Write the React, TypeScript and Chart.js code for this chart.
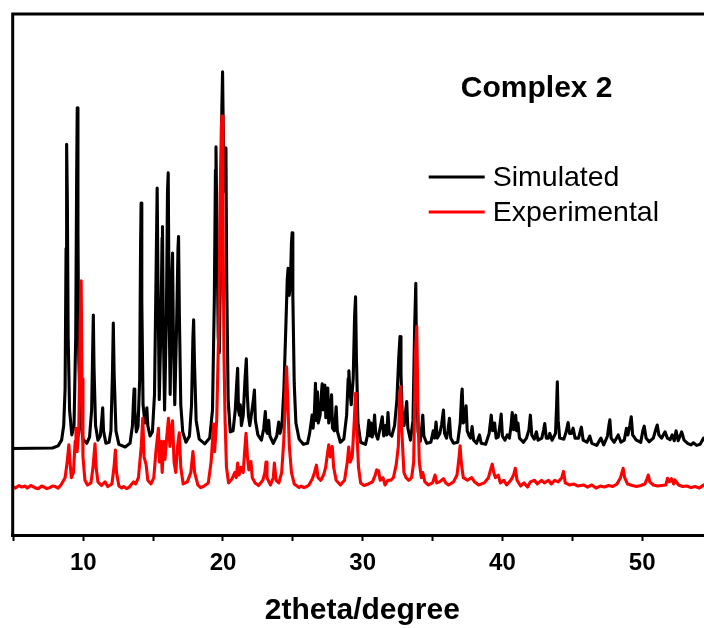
import { useEffect, useRef } from "react";
import { Chart, registerables } from "chart.js";

Chart.register(...registerables);

const FONT = '"Liberation Sans", Arial, Helvetica, sans-serif';

const seriesLabels = ["Simulated", "Experimental"];
const seriesColors = ["#000000", "#ff0000"];
const xTitle = "2theta/degree";
const sampleName = "Complex 2";
const xTickLabels = [10, 20, 30, 40, 50];
const xRange = [4.95, 55];
const yRange = [0, 100];

// [2theta, intensity (a.u., offset as plotted)]
const simulated: [number, number][] = [
  [4.9, 16.6], [7.8, 16.7], [8.2, 17.1], [8.45, 18.2], [8.6, 21], [8.7, 28], [8.77, 55], [8.81, 75.0], [8.86, 64.6], [8.92, 38], [9.02, 24],
  [9.18, 19.2], [9.34, 21], [9.46, 38], [9.53, 70], [9.57, 82.0], [9.62, 58], [9.68, 34], [9.8, 22], [9.98, 18.4], [10.25, 17.6],
  [10.45, 18.8], [10.6, 24], [10.69, 38], [10.72, 42.2], [10.77, 32], [10.88, 21], [11.05, 18.2], [11.22, 19], [11.32, 22], [11.39, 24.4],
  [11.45, 20], [11.62, 17.6], [11.85, 17.8], [11.98, 20], [12.09, 31], [12.15, 40.7], [12.21, 31], [12.34, 20], [12.55, 17.4], [13.0, 16.9],
  [13.35, 17.6], [13.52, 21], [13.6, 26], [13.64, 28.0], [13.69, 24], [13.8, 19.8], [13.92, 20.8], [14.04, 30], [14.1, 55], [14.14, 63.7],
  [14.19, 45], [14.28, 25], [14.42, 21.5], [14.5, 23.5], [14.55, 24.4], [14.62, 21], [14.78, 19], [14.95, 19.8], [15.1, 27], [15.22, 52],
  [15.29, 66.6], [15.35, 48], [15.44, 26], [15.56, 40], [15.64, 57], [15.67, 59.2], [15.73, 40], [15.82, 24], [15.95, 42], [16.03, 66],
  [16.08, 69.5], [16.14, 45], [16.22, 27], [16.32, 48], [16.39, 54.1], [16.45, 38], [16.55, 25], [16.68, 40], [16.78, 55], [16.82, 57.3],
  [16.88, 42], [16.98, 25], [17.12, 19.8], [17.35, 17.8], [17.6, 19], [17.75, 25], [17.85, 38], [17.9, 41.3], [17.96, 33], [18.08, 22],
  [18.3, 18.4], [18.7, 17.5], [19.05, 18.6], [19.25, 24], [19.38, 45], [19.46, 70], [19.5, 74.5], [19.56, 60], [19.66, 38], [19.74, 35],
  [19.84, 55], [19.92, 82], [19.97, 88.9], [20.02, 78], [20.08, 66], [20.15, 70], [20.21, 74.3], [20.27, 48], [20.37, 26], [20.52, 19.8],
  [20.72, 20], [20.88, 24], [20.98, 29], [21.05, 32.0], [21.11, 24], [21.18, 23], [21.24, 25], [21.32, 21], [21.45, 23], [21.58, 30],
  [21.67, 33.8], [21.74, 27], [21.82, 23], [21.92, 21], [22.08, 24], [22.18, 26], [22.25, 27.8], [22.32, 22], [22.5, 19.2], [22.75, 18.2],
  [22.92, 20.5], [23.03, 23.7], [23.1, 20], [23.18, 19.5], [23.27, 22], [23.36, 19], [23.6, 17.6], [23.85, 19], [23.99, 21.7], [24.08, 19.5],
  [24.22, 21], [24.36, 28], [24.5, 40], [24.6, 49], [24.66, 51.2], [24.74, 46], [24.82, 48], [24.9, 56], [24.95, 58.0], [25.0, 46],
  [25.1, 29], [25.22, 21.5], [25.45, 18.4], [25.75, 17.4], [26.05, 17.6], [26.2, 19.5], [26.33, 22], [26.38, 23], [26.45, 20.5], [26.55, 24],
  [26.62, 29.1], [26.68, 22], [26.76, 27.5], [26.82, 21.5], [26.95, 23], [27.04, 27], [27.1, 29.0], [27.17, 24], [27.24, 27.5], [27.29, 28.8],
  [27.36, 22.5], [27.44, 25], [27.5, 28.2], [27.57, 21.5], [27.68, 23.5], [27.77, 26.9], [27.84, 20.5], [27.97, 20], [28.06, 23], [28.1, 24.6],
  [28.18, 20], [28.4, 17.8], [28.65, 18.4], [28.85, 23], [28.96, 30], [29.01, 31.5], [29.08, 28], [29.18, 25], [29.32, 30], [29.42, 42],
  [29.49, 45.7], [29.55, 34], [29.66, 21.5], [29.85, 17.8], [30.2, 17.4], [30.33, 19], [30.44, 22], [30.52, 19], [30.6, 21.5], [30.68, 18.8],
  [30.78, 20.5], [30.85, 23], [30.93, 19.5], [31.08, 18.4], [31.25, 20.5], [31.4, 22.7], [31.5, 19], [31.62, 21], [31.72, 19.2], [31.81, 23.5],
  [31.9, 19.5], [32.08, 19], [32.28, 21], [32.45, 26], [32.58, 34], [32.67, 38.1], [32.74, 31], [32.84, 22], [32.96, 21], [33.08, 24],
  [33.15, 25.6], [33.23, 20.5], [33.42, 18.2], [33.6, 22], [33.72, 40], [33.8, 48.3], [33.86, 32], [33.96, 19.8], [34.12, 18], [34.24, 21],
  [34.3, 23.0], [34.38, 19], [34.58, 17.6], [34.88, 17.8], [35.05, 20], [35.14, 18.6], [35.25, 21.7], [35.34, 18.6], [35.52, 19.5], [35.65, 21.2],
  [35.78, 24], [35.86, 19.5], [36.0, 18.6], [36.1, 20], [36.21, 22.4], [36.3, 18.6], [36.5, 17.6], [36.8, 17.8], [36.98, 21.5], [37.08, 27],
  [37.12, 28.0], [37.2, 21.5], [37.32, 22], [37.4, 24.8], [37.48, 20], [37.62, 19], [37.72, 18.6], [37.83, 20.8], [37.94, 18.2], [38.15, 17.6],
  [38.28, 18.6], [38.36, 19.2], [38.48, 17.6], [38.8, 17.4], [39.05, 19.5], [39.2, 23.0], [39.3, 20], [39.44, 21.5], [39.55, 18.6], [39.7, 18.8],
  [39.82, 21], [39.91, 23.2], [40.0, 19], [40.18, 18.2], [40.35, 19.2], [40.5, 18.6], [40.62, 21], [40.7, 23.5], [40.8, 20.2], [40.88, 21.5],
  [40.95, 23.0], [41.02, 20], [41.11, 21.5], [41.22, 18.6], [41.5, 17.8], [41.72, 18.6], [41.9, 20.2], [42.0, 23.0], [42.1, 19.2], [42.28, 18.4],
  [42.43, 19.8], [42.55, 18.2], [42.82, 18.6], [42.95, 20.2], [43.03, 21.4], [43.14, 18.6], [43.3, 18.6], [43.39, 19.5], [43.55, 18.2], [43.8, 19.5],
  [43.88, 25], [43.93, 29.4], [43.99, 22], [44.1, 18.6], [44.4, 18.4], [44.58, 20], [44.7, 21.6], [44.8, 19.5], [44.95, 19.5], [45.06, 20.5],
  [45.2, 18.6], [45.45, 18.6], [45.58, 20], [45.65, 20.7], [45.78, 18.2], [46.05, 17.8], [46.25, 19], [46.4, 17.6], [46.75, 17.2], [47.05, 18.6],
  [47.25, 17.3], [47.52, 19], [47.62, 21], [47.69, 22.1], [47.78, 18.6], [48.0, 17.8], [48.29, 19.2], [48.48, 17.8], [48.72, 18.2], [48.88, 20.5],
  [48.98, 19.2], [49.12, 21], [49.22, 22.7], [49.32, 19.2], [49.58, 18.2], [49.9, 17.8], [50.05, 20], [50.15, 20.9], [50.28, 18.6], [50.5, 17.9],
  [50.8, 18.6], [50.98, 20.3], [51.08, 21.1], [51.2, 19.2], [51.4, 18.6], [51.64, 19.8], [51.8, 18.6], [52.0, 18.3], [52.15, 19.2], [52.3, 18.1],
  [52.43, 20.0], [52.58, 18.1], [52.83, 19.8], [53.0, 18.2], [53.25, 17.6], [53.5, 17.3], [53.67, 17.7], [53.9, 17.2], [54.15, 17.4], [54.4, 18.6],
  [54.65, 17.6], [55, 17.2],
];

const experimental: [number, number][] = [
  [4.9, 9.4], [5.15, 9.0], [5.4, 9.5], [5.6, 9.2], [5.85, 9.4], [6.0, 9.0], [6.25, 9.5], [6.4, 9.3], [6.6, 9.0], [6.8, 8.9],
  [7.0, 9.4], [7.2, 9.2], [7.4, 8.9], [7.6, 9.1], [7.8, 9.4], [8.0, 9.3], [8.2, 9.0], [8.4, 9.6],
  [8.7, 11], [8.85, 14], [8.97, 17.3], [9.05, 14], [9.15, 11], [9.3, 12], [9.42, 18], [9.48, 20.5], [9.56, 16], [9.68, 20],
  [9.78, 40], [9.85, 48.8], [9.91, 30], [9.98, 15], [10.12, 10.5], [10.3, 9.6], [10.55, 10], [10.7, 13], [10.84, 17.5], [10.92, 13],
  [11.05, 10.2], [11.3, 9.5], [11.56, 10.2], [11.75, 9.3], [12.05, 9.8], [12.2, 13], [12.3, 16.3], [12.38, 12], [12.55, 9.4], [12.75, 9.0],
  [12.9, 9.3], [13.1, 8.9], [13.3, 9.2], [13.6, 10.2], [13.75, 9.8], [13.95, 11], [14.15, 17], [14.26, 22.4], [14.35, 15], [14.5, 13.5],
  [14.62, 10.5], [14.85, 9.8], [15.05, 11], [15.2, 16], [15.38, 20.5], [15.45, 14], [15.55, 18], [15.65, 12], [15.75, 18], [15.85, 14.5],
  [15.95, 18], [16.1, 22.4], [16.2, 17], [16.3, 20], [16.39, 21.9], [16.5, 14], [16.62, 12], [16.75, 17], [16.87, 19.6], [16.98, 13],
  [17.15, 9.8], [17.45, 10.2], [17.7, 12], [17.85, 16.0], [17.97, 12], [18.2, 9.6], [18.4, 9.1], [18.6, 9.3], [18.95, 10], [19.15, 14],
  [19.33, 21.3], [19.4, 16], [19.55, 22], [19.7, 40], [19.8, 65], [19.88, 78], [19.93, 80.4], [20.0, 62], [20.07, 35], [20.15, 22],
  [20.25, 13], [20.4, 10], [20.65, 10.8], [20.85, 12], [20.95, 11], [21.05, 13.8], [21.15, 11.5], [21.3, 13], [21.45, 12], [21.55, 16],
  [21.65, 19.5], [21.75, 15], [21.85, 12.5], [22.0, 14.1], [22.1, 11], [22.3, 10], [22.55, 9.5], [22.85, 10.5], [23.0, 12], [23.08, 14],
  [23.15, 11], [23.4, 9.6], [23.6, 11], [23.68, 13.8], [23.8, 10.5], [24.0, 10], [24.2, 12], [24.35, 18], [24.48, 27], [24.55, 32.3],
  [24.65, 25], [24.75, 17], [24.9, 12], [25.1, 9.8], [25.3, 9.4], [25.45, 9.1], [25.6, 9.4], [25.8, 9.1], [26.0, 9.3], [26.15, 9.6],
  [26.4, 10.8], [26.55, 12], [26.69, 13.4], [26.8, 11], [27.0, 10.5], [27.2, 11.5], [27.35, 13], [27.5, 16], [27.57, 17.3], [27.68, 15],
  [27.82, 17], [27.92, 13], [28.1, 10.5], [28.4, 9.6], [28.7, 10.5], [28.9, 14], [29.0, 16.9], [29.1, 14], [29.25, 15], [29.4, 22],
  [29.49, 27.2], [29.58, 20], [29.7, 13], [29.85, 10], [30.1, 9.5], [30.4, 9.8], [30.7, 10.2], [30.9, 11.5], [31.0, 12.5], [31.14, 12.3],
  [31.25, 10.5], [31.45, 11], [31.6, 9.6], [31.8, 10.5], [32.0, 10.5], [32.2, 11], [32.4, 13.5], [32.55, 17], [32.65, 27], [32.72, 28.5],
  [32.8, 20], [32.95, 12], [33.1, 11], [33.3, 10.5], [33.5, 11], [33.65, 14], [33.78, 35], [33.87, 40.0], [33.95, 25], [34.05, 14],
  [34.2, 11], [34.3, 12], [34.45, 10.2], [34.7, 9.6], [35.0, 10], [35.18, 11.5], [35.3, 10], [35.5, 10.2], [35.78, 10.8], [35.95, 10],
  [36.15, 9.6], [36.5, 10.2], [36.75, 11.5], [36.9, 15], [36.97, 17.1], [37.05, 14], [37.2, 11], [37.5, 10.5], [37.8, 11], [38.0, 10.2],
  [38.3, 9.6], [38.7, 10], [39.0, 11], [39.15, 12.5], [39.27, 13.6], [39.38, 12], [39.5, 11], [39.7, 11.5], [39.85, 10], [40.1, 10.5],
  [40.3, 9.6], [40.6, 10.5], [40.8, 11.5], [40.92, 12.8], [41.05, 10.5], [41.3, 9.4], [41.55, 10], [41.8, 9.2], [42.0, 10.2], [42.3, 10.5],
  [42.5, 9.8], [42.8, 10.5], [43.0, 10], [43.3, 10.5], [43.5, 9.8], [43.75, 10.5], [44.0, 10.2], [44.25, 11], [44.37, 12.2], [44.5, 10],
  [44.8, 9.6], [45.1, 9.8], [45.4, 9.4], [45.8, 9.6], [46.1, 9.2], [46.4, 9.6], [46.7, 9.0], [47.0, 9.4], [47.3, 9.2], [47.6, 9.5],
  [47.9, 9.3], [48.2, 9.8], [48.45, 11], [48.64, 12.8], [48.75, 11], [48.95, 9.8], [49.3, 9.5], [49.6, 9.3], [49.9, 9.5], [50.2, 9.8],
  [50.35, 10.8], [50.44, 11.5], [50.55, 10.2], [50.8, 9.6], [51.1, 9.4], [51.4, 9.5], [51.7, 9.6], [51.82, 10.9], [51.95, 10.2], [52.1, 10.8],
  [52.25, 9.8], [52.33, 10.6], [52.45, 10.2], [52.6, 9.6], [52.9, 9.3], [53.2, 9.4], [53.5, 9.1], [53.8, 9.3], [54.1, 9.0], [54.4, 9.6],
  [54.7, 9.8], [55, 9.5],
];

const seriesData = [simulated, experimental];

const overlayPlugin = {
  id: "overlay",
  afterDraw(chart: any) {
    const { ctx, chartArea: a } = chart;
    ctx.save();
    // frame
    ctx.strokeStyle = "#000";
    ctx.lineWidth = 3;
    ctx.beginPath();
    ctx.moveTo(a.left, a.bottom);
    ctx.lineTo(a.left, a.top);
    ctx.lineTo(a.right, a.top);
    ctx.lineTo(a.right, a.bottom);
    ctx.stroke();

    // sample label
    ctx.fillStyle = "#000";
    ctx.font = `bold 30px ${FONT}`;
    ctx.textAlign = "center";
    ctx.textBaseline = "alphabetic";
    ctx.fillText(sampleName, a.left + 524, a.top + 83);

    // legend
    ctx.textAlign = "left";
    ctx.font = `28.5px ${FONT}`;
    chart.data.datasets.forEach((ds: any, i: number) => {
      const yLine = a.top + 163 + i * 35;
      ctx.strokeStyle = ds.borderColor;
      ctx.lineWidth = 3;
      ctx.beginPath();
      ctx.moveTo(a.left + 416, yLine);
      ctx.lineTo(a.left + 472, yLine);
      ctx.stroke();
      ctx.fillStyle = "#000";
      ctx.fillText(ds.label, a.left + 480, yLine + 8.5);
    });
    ctx.restore();
  },
};

export default function App() {
  const ref = useRef<HTMLCanvasElement | null>(null);

  useEffect(() => {
    if (!ref.current) return;
    const chart = new Chart(ref.current, {
      type: "line",
      data: {
        datasets: seriesLabels.map((label, i) => ({
          label,
          data: seriesData[i].map(([x, y]) => ({ x, y })),
          borderColor: seriesColors[i],
          backgroundColor: seriesColors[i],
          borderWidth: 3.1,
          borderJoinStyle: "round" as const,
          borderCapStyle: "round" as const,
          pointRadius: 0,
          tension: 0,
          fill: false,
          order: i === 0 ? 1 : 0,
        })),
      },
      options: {
        responsive: false,
        animation: false,
        devicePixelRatio: 1,
        layout: { padding: { left: 12.7, top: 14, right: 8, bottom: 0 } },
        plugins: { legend: { display: false }, tooltip: { enabled: false } },
        scales: {
          x: {
            type: "linear",
            min: xRange[0],
            max: xRange[1],
            afterFit: (scale: any) => {
              scale.height = 93;
            },
            border: { display: true, color: "#000", width: 3 },
            grid: {
              display: true,
              drawOnChartArea: false,
              drawTicks: true,
              tickLength: 6,
              tickWidth: 2,
              tickColor: "#000",
            },
            ticks: {
              stepSize: 5,
              includeBounds: false,
              autoSkip: false,
              maxRotation: 0,
              padding: 8,
              color: "#000",
              font: { family: FONT, size: 24, weight: "bold" },
              callback: (v: any) => (xTickLabels.includes(Number(v)) ? String(v) : ""),
            },
            title: {
              display: true,
              text: xTitle,
              color: "#000",
              font: { family: FONT, size: 30, weight: "bold", lineHeight: 1 },
              padding: { top: 0, bottom: 2 },
            },
          },
          y: {
            type: "linear",
            display: false,
            min: yRange[0],
            max: yRange[1],
          },
        },
      },
      plugins: [overlayPlugin],
    });
    return () => chart.destroy();
  }, []);

  return (
    <div
      style={{
        position: "fixed",
        left: 0,
        top: 0,
        width: 704,
        height: 628,
        overflow: "hidden",
        background: "#fff",
      }}
    >
      <canvas ref={ref} width={720} height={628} style={{ display: "block", width: 720, height: 628 }} />
    </div>
  );
}
